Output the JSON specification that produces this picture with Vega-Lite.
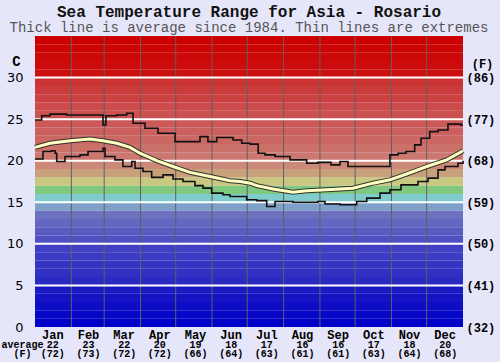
{
  "$schema": "https://vega.github.io/schema/vega-lite/v6.json",
  "width": 428,
  "height": 291,
  "autosize": {"type": "none"},
  "padding": {"left": 35, "top": 36, "right": 37, "bottom": 35},
  "background": "#e6e6fa",
  "config": {"view": {"stroke": null}},
  "title": {
    "text": "Sea Temperature Range for Asia - Rosario",
    "subtitle": "Thick line is average since 1984. Thin lines are extremes",
    "font": "Liberation Mono",
    "fontSize": 16,
    "fontWeight": "bold",
    "color": "#111111",
    "subtitleFont": "Liberation Mono",
    "subtitleFontSize": 14,
    "subtitleColor": "#555555",
    "subtitlePadding": 1,
    "anchor": "middle",
    "offset": 1
  },
  "datasets": {
    "bands": [
      {"lo": 0, "hi": 1}, {"lo": 1, "hi": 2}, {"lo": 2, "hi": 3}, {"lo": 3, "hi": 4}, {"lo": 4, "hi": 5},
      {"lo": 5, "hi": 6}, {"lo": 6, "hi": 7}, {"lo": 7, "hi": 8}, {"lo": 8, "hi": 9}, {"lo": 9, "hi": 10},
      {"lo": 10, "hi": 11}, {"lo": 11, "hi": 12}, {"lo": 12, "hi": 13}, {"lo": 13, "hi": 14}, {"lo": 14, "hi": 15},
      {"lo": 15, "hi": 16}, {"lo": 16, "hi": 17}, {"lo": 17, "hi": 18}, {"lo": 18, "hi": 19}, {"lo": 19, "hi": 20},
      {"lo": 20, "hi": 21}, {"lo": 21, "hi": 22}, {"lo": 22, "hi": 23}, {"lo": 23, "hi": 24}, {"lo": 24, "hi": 25},
      {"lo": 25, "hi": 26}, {"lo": 26, "hi": 27}, {"lo": 27, "hi": 28}, {"lo": 28, "hi": 29}, {"lo": 29, "hi": 30},
      {"lo": 30, "hi": 31}, {"lo": 31, "hi": 32}, {"lo": 32, "hi": 33}, {"lo": 33, "hi": 34}, {"lo": 34, "hi": 35}
    ],
    "grid": [{"t": 5}, {"t": 10}, {"t": 15}, {"t": 20}, {"t": 25}, {"t": 30}],
    "monthStarts": [{"d": 31}, {"d": 59}, {"d": 90}, {"d": 120}, {"d": 151}, {"d": 181}, {"d": 212}, {"d": 243}, {"d": 273}, {"d": 304}, {"d": 334}],
    "months": [
      {"key": "Jan|22|(72)"}, {"key": "Feb|23|(73)"}, {"key": "Mar|22|(72)"}, {"key": "Apr|20|(72)"},
      {"key": "May|19|(66)"}, {"key": "Jun|18|(64)"}, {"key": "Jul|17|(63)"}, {"key": "Aug|16|(61)"},
      {"key": "Sep|16|(61)"}, {"key": "Oct|17|(63)"}, {"key": "Nov|18|(64)"}, {"key": "Dec|20|(68)"}
    ],
    "lines": [
      {"s": "max", "d": 0, "v": 24.9}, {"s": "max", "d": 5.7, "v": 25.4}, {"s": "max", "d": 12.8, "v": 25.6},
      {"s": "max", "d": 27, "v": 25.5}, {"s": "max", "d": 58, "v": 24.3}, {"s": "max", "d": 60.5, "v": 25.4},
      {"s": "max", "d": 69.7, "v": 25.5}, {"s": "max", "d": 78.2, "v": 25.7}, {"s": "max", "d": 83.6, "v": 24.5},
      {"s": "max", "d": 93.8, "v": 23.9}, {"s": "max", "d": 104.9, "v": 23.3}, {"s": "max", "d": 119.4, "v": 22.3},
      {"s": "max", "d": 140.7, "v": 22.9}, {"s": "max", "d": 147.5, "v": 22.3}, {"s": "max", "d": 155, "v": 22.8},
      {"s": "max", "d": 168.9, "v": 22.5}, {"s": "max", "d": 176.3, "v": 22.1}, {"s": "max", "d": 183.4, "v": 22.0},
      {"s": "max", "d": 190.3, "v": 20.9}, {"s": "max", "d": 196.1, "v": 20.7}, {"s": "max", "d": 204.7, "v": 20.5},
      {"s": "max", "d": 217.5, "v": 20.1}, {"s": "max", "d": 231.7, "v": 19.7}, {"s": "max", "d": 241.3, "v": 19.8},
      {"s": "max", "d": 252.4, "v": 19.5}, {"s": "max", "d": 260.1, "v": 19.9}, {"s": "max", "d": 266.9, "v": 19.3},
      {"s": "max", "d": 302.7, "v": 20.7}, {"s": "max", "d": 309.6, "v": 20.9}, {"s": "max", "d": 316.4, "v": 21.1},
      {"s": "max", "d": 323.8, "v": 21.9}, {"s": "max", "d": 329.2, "v": 22.7}, {"s": "max", "d": 336.6, "v": 23.5},
      {"s": "max", "d": 343.7, "v": 23.7}, {"s": "max", "d": 352.2, "v": 24.4}, {"s": "max", "d": 363.3, "v": 24.3},
      {"s": "max", "d": 365, "v": 24.3},
      {"s": "min", "d": 0, "v": 20.2}, {"s": "min", "d": 6.8, "v": 21.1}, {"s": "min", "d": 14.2, "v": 21.2},
      {"s": "min", "d": 17.1, "v": 20.9}, {"s": "min", "d": 18.5, "v": 19.9}, {"s": "min", "d": 25.6, "v": 20.5},
      {"s": "min", "d": 38.4, "v": 20.7}, {"s": "min", "d": 45.2, "v": 21.1}, {"s": "min", "d": 58, "v": 21.5},
      {"s": "min", "d": 59.7, "v": 20.5}, {"s": "min", "d": 68.2, "v": 20.1}, {"s": "min", "d": 75, "v": 19.3},
      {"s": "min", "d": 82.5, "v": 19.9}, {"s": "min", "d": 85.3, "v": 19.1}, {"s": "min", "d": 92.1, "v": 18.7},
      {"s": "min", "d": 99.5, "v": 18.0}, {"s": "min", "d": 109.2, "v": 18.3}, {"s": "min", "d": 117.7, "v": 17.8},
      {"s": "min", "d": 126.2, "v": 17.5}, {"s": "min", "d": 136.4, "v": 17.0}, {"s": "min", "d": 143.3, "v": 16.7},
      {"s": "min", "d": 150.7, "v": 16.1}, {"s": "min", "d": 160.3, "v": 15.9}, {"s": "min", "d": 166.3, "v": 15.7},
      {"s": "min", "d": 180.5, "v": 15.3}, {"s": "min", "d": 189.1, "v": 15.2}, {"s": "min", "d": 197.6, "v": 14.5},
      {"s": "min", "d": 204.7, "v": 15.1}, {"s": "min", "d": 220, "v": 15.0}, {"s": "min", "d": 241.3, "v": 15.1},
      {"s": "min", "d": 247.3, "v": 14.8}, {"s": "min", "d": 260.1, "v": 14.7}, {"s": "min", "d": 274.3, "v": 15.1},
      {"s": "min", "d": 282.9, "v": 15.5}, {"s": "min", "d": 294.2, "v": 16.1}, {"s": "min", "d": 302.7, "v": 16.5},
      {"s": "min", "d": 312.1, "v": 17.1}, {"s": "min", "d": 326.6, "v": 17.5}, {"s": "min", "d": 335.2, "v": 17.9},
      {"s": "min", "d": 343.7, "v": 18.9}, {"s": "min", "d": 349.6, "v": 19.3}, {"s": "min", "d": 360.7, "v": 19.7},
      {"s": "min", "d": 365, "v": 20.0},
      {"s": "avg", "d": 0, "v": 21.6}, {"s": "avg", "d": 12.8, "v": 22.1}, {"s": "avg", "d": 29.9, "v": 22.4},
      {"s": "avg", "d": 47, "v": 22.6}, {"s": "avg", "d": 58, "v": 22.4}, {"s": "avg", "d": 69.7, "v": 22.1},
      {"s": "avg", "d": 81, "v": 21.6}, {"s": "avg", "d": 89.5, "v": 20.9}, {"s": "avg", "d": 103.8, "v": 20.0},
      {"s": "avg", "d": 117.7, "v": 19.3}, {"s": "avg", "d": 132.2, "v": 18.6}, {"s": "avg", "d": 149.3, "v": 18.1},
      {"s": "avg", "d": 166.3, "v": 17.6}, {"s": "avg", "d": 175, "v": 17.5}, {"s": "avg", "d": 183.4, "v": 17.3},
      {"s": "avg", "d": 189.1, "v": 17.0}, {"s": "avg", "d": 203, "v": 16.6}, {"s": "avg", "d": 220, "v": 16.2},
      {"s": "avg", "d": 231.7, "v": 16.4}, {"s": "avg", "d": 248.8, "v": 16.5}, {"s": "avg", "d": 271.2, "v": 16.7},
      {"s": "avg", "d": 288.3, "v": 17.3}, {"s": "avg", "d": 302.7, "v": 17.7}, {"s": "avg", "d": 316.9, "v": 18.4},
      {"s": "avg", "d": 334.1, "v": 19.3}, {"s": "avg", "d": 351.1, "v": 20.1}, {"s": "avg", "d": 363.9, "v": 21.1},
      {"s": "avg", "d": 365, "v": 21.2}
    ]
  },
  "layer": [
    {
      "data": {"name": "bands"},
      "mark": {"type": "rect", "strokeWidth": 0},
      "encoding": {
        "y": {
          "field": "lo", "type": "quantitative",
          "scale": {"domain": [0, 35], "nice": false, "zero": false},
          "axis": {
            "orient": "left", "values": [0, 5, 10, 15, 20, 25, 30],
            "grid": false, "ticks": false, "domain": false,
            "labelFont": "DejaVu Sans", "labelFontSize": 13, "labelColor": "#000000", "labelPadding": 12,
            "title": "C", "titleAngle": 0, "titleAlign": "center", "titleBaseline": "middle",
            "titleX": -19, "titleY": 25, "titleFont": "Liberation Mono", "titleFontWeight": "bold",
            "titleFontSize": 14, "titleColor": "#000000"
          }
        },
        "y2": {"field": "hi"},
        "color": {
          "field": "lo", "type": "quantitative", "legend": null,
          "scale": {
            "domain": [0, 4, 5, 9, 10, 13, 14, 15, 16, 17, 18, 19, 20, 24, 29, 30, 34],
            "range": ["#0000c8", "#1a1ac4", "#2a2ac2", "#4040c4", "#5050c2", "#6c72c0", "#7fa0c8", "#80cccc", "#80c880", "#c8c880", "#c8a07a", "#cc8878", "#cc7870", "#cc5858", "#cc3434", "#cc1010", "#cc0000"],
            "interpolate": "rgb"
          }
        }
      }
    },
    {
      "data": {"name": "monthStarts"},
      "mark": {"type": "rule", "color": "#606060", "strokeWidth": 1},
      "encoding": {
        "x": {"field": "d", "type": "quantitative", "scale": {"domain": [0, 365], "nice": false, "zero": false}, "axis": null}
      }
    },
    {
      "data": {"name": "grid"},
      "mark": {"type": "rule", "color": "#ffffff", "strokeWidth": 2},
      "encoding": {
        "y": {
          "field": "t", "type": "quantitative",
          "scale": {"domain": [0, 35], "nice": false, "zero": false},
          "axis": {
            "orient": "right", "values": [0, 5, 10, 15, 20, 25, 30],
            "grid": false, "ticks": false, "domain": false,
            "labelExpr": "'(' + format(datum.value * 9 / 5 + 32, 'd') + ')'",
            "labelFont": "Liberation Mono", "labelFontWeight": "bold", "labelFontSize": 12,
            "labelColor": "#000000", "labelPadding": 3,
            "title": "(F)", "titleAngle": 0, "titleAlign": "center", "titleBaseline": "middle",
            "titleX": 19, "titleY": 27, "titleFont": "Liberation Mono", "titleFontWeight": "bold",
            "titleFontSize": 12, "titleColor": "#000000"
          }
        }
      }
    },
    {
      "data": {"name": "lines"},
      "transform": [{"filter": "datum.s !== 'avg'"}],
      "mark": {"type": "line", "interpolate": "step-after", "color": "#111111", "strokeWidth": 1.6},
      "encoding": {
        "x": {"field": "d", "type": "quantitative", "scale": {"domain": [0, 365], "nice": false, "zero": false}, "axis": null},
        "y": {"field": "v", "type": "quantitative", "scale": {"domain": [0, 35], "nice": false, "zero": false}, "axis": null},
        "detail": {"field": "s"}
      }
    },
    {
      "data": {"name": "lines"},
      "transform": [{"filter": "datum.s === 'avg'"}],
      "mark": {"type": "line", "color": "#333333", "strokeWidth": 5},
      "encoding": {
        "x": {"field": "d", "type": "quantitative", "scale": {"domain": [0, 365], "nice": false, "zero": false}, "axis": null},
        "y": {"field": "v", "type": "quantitative", "scale": {"domain": [0, 35], "nice": false, "zero": false}, "axis": null}
      }
    },
    {
      "data": {"name": "lines"},
      "transform": [{"filter": "datum.s === 'avg'"}],
      "mark": {"type": "line", "color": "#ffffc0", "strokeWidth": 3},
      "encoding": {
        "x": {"field": "d", "type": "quantitative", "scale": {"domain": [0, 365], "nice": false, "zero": false}, "axis": null},
        "y": {"field": "v", "type": "quantitative", "scale": {"domain": [0, 35], "nice": false, "zero": false}, "axis": null}
      }
    },
    {
      "data": {"name": "months"},
      "mark": {"type": "rule", "opacity": 0},
      "encoding": {
        "x": {
          "field": "key", "type": "nominal", "sort": null,
          "scale": {"type": "band", "paddingInner": 0, "paddingOuter": 0},
          "axis": {
            "orient": "bottom", "labelExpr": "split(datum.label, '|')[0]", "labelAngle": 0,
            "ticks": false, "domain": false, "labelFont": "Liberation Mono", "labelFontWeight": "bold",
            "labelFontSize": 12, "labelColor": "#000000", "labelPadding": 2, "title": null
          }
        }
      }
    },
    {
      "data": {"name": "months"},
      "mark": {"type": "rule", "opacity": 0},
      "encoding": {
        "x": {
          "field": "key", "type": "nominal", "sort": null,
          "scale": {"type": "band", "paddingInner": 0, "paddingOuter": 0},
          "axis": {
            "orient": "bottom", "offset": 10, "labelExpr": "slice(split(datum.label, '|'), 1)", "labelAngle": 0,
            "ticks": false, "domain": false, "labelFont": "Liberation Mono", "labelFontWeight": "bold",
            "labelFontSize": 10, "labelLineHeight": 9, "labelColor": "#000000", "labelPadding": 2,
            "title": ["average", "(F)"], "titleFont": "Liberation Mono", "titleFontWeight": "bold",
            "titleFontSize": 10, "titleLineHeight": 9, "titleColor": "#000000",
            "titleAlign": "center", "titleBaseline": "top", "titleX": -13, "titleY": 2
          }
        }
      }
    }
  ],
  "resolve": {"scale": {"x": "independent"}, "axis": {"x": "independent", "y": "independent"}}
}
